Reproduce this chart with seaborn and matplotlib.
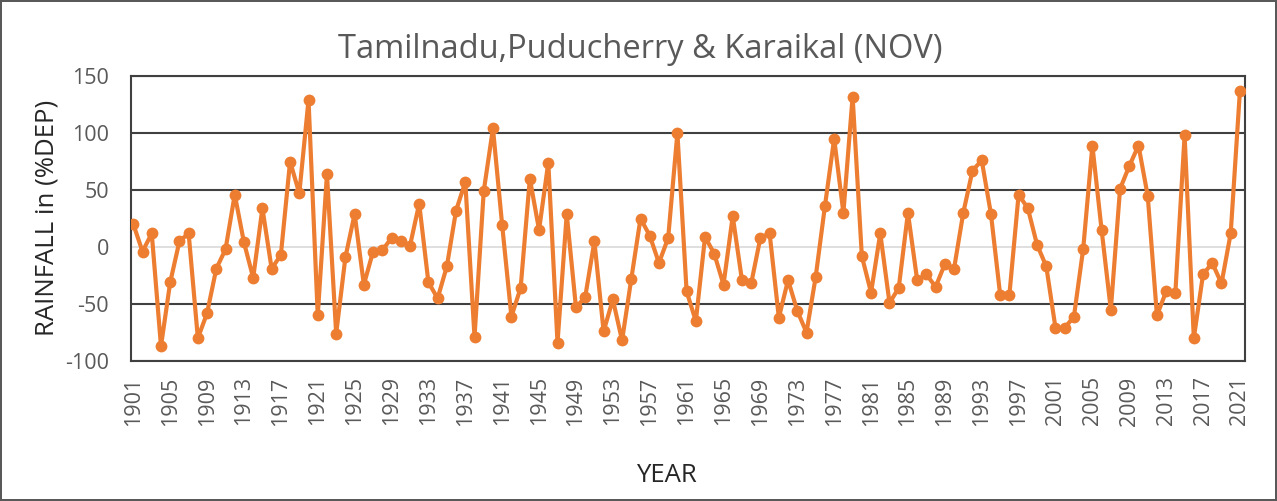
import numpy as np
import pandas as pd
import matplotlib
matplotlib.use("Agg")
import matplotlib.pyplot as plt
import seaborn as sns

# years and % departure of November rainfall
years = list(range(1901, 2022))
dep = [
    20, -4, 12, -87, -31, 5, 12, -80, -58, -19,
    -2, 46, 4, -27, 34, -19, -7, 75, 47, 129,
    -60, 64, -76, -9, 29, -33, -4, -3, 8, 5,
    1, 38, -31, -45, -17, 32, 57, -79, 49, 104,
    19, -61, -36, 60, 15, 74, -84, 29, -53, -44,
    5, -74, -46, -82, -28, 25, 10, -14, 8, 100,
    -39, -65, 9, -6, -33, 27, -29, -32, 8, 12,
    -62, -29, -56, -75, -26, 36, 95, 30, 132, -8,
    -40, 12, -49, -36, 30, -29, -24, -35, -15, -19,
    30, 67, 76, 29, -42, -42, 46, 34, 2, -17,
    -71, -71, -61, -2, 89, 15, -55, 51, 71, 89,
    45, -60, -39, -40, 98, -80, -24, -14, -32, 12,
    137,
]
tick_years = list(range(1901, 2022, 4))

df = pd.DataFrame({"YEAR": years, "DEP": dep})

sns.set_theme(style="white")
plt.rcParams["font.family"] = ["Open Sans", "DejaVu Sans"]
plt.rcParams["axes.unicode_minus"] = False

W, H = 1277, 501
fig = plt.figure(figsize=(W / 100, H / 100), dpi=100)
fig.patch.set_edgecolor("#595959")
fig.patch.set_linewidth(1.5)
ax = fig.add_axes([131 / W, 1 - 361 / H, (1245 - 131) / W, (361 - 76) / H])

# grid lines
for v in [150, 100, 50, -50, -100]:
    ax.axhline(v, color="#404040", lw=1.5, zorder=1)
ax.axhline(0, color="#d9d9d9", lw=1.2, zorder=1)

sns.lineplot(data=df, x="YEAR", y="DEP", ax=ax, color="#ED7D31",
             lw=3.0, marker="o", markersize=8.5, markeredgewidth=0, zorder=3)

ax.set_xlim(1900.75, 2021.55)
ax.set_ylim(-100, 150)
ax.set_yticks([-100, -50, 0, 50, 100, 150])
ax.set_xticks(tick_years)
ax.set_xticklabels([str(y) for y in tick_years], rotation=90)
ax.tick_params(axis="both", length=0, labelsize=15.5, colors="#595959")
ax.tick_params(axis="y", pad=16)
ax.tick_params(axis="x", pad=11)
ax.set_xlabel("")
ax.set_ylabel("")

for s in ax.spines.values():
    s.set_color("#404040")
    s.set_linewidth(1.5)

fig.text(640 / W, 1 - 50 / H, "Tamilnadu,Puducherry & Karaikal (NOV)",
         fontsize=23.5, color="#595959", ha="center", va="center")
fig.text(47 / W, 1 - 218 / H, "RAINFALL in (%DEP)", fontsize=18.5,
         color="#262626", rotation=90, ha="center", va="center")
fig.text(666 / W, 1 - 475 / H, "YEAR", fontsize=18.5, color="#262626",
         ha="center", va="center")

fig.savefig("out.png", dpi=100, edgecolor=fig.get_edgecolor())
